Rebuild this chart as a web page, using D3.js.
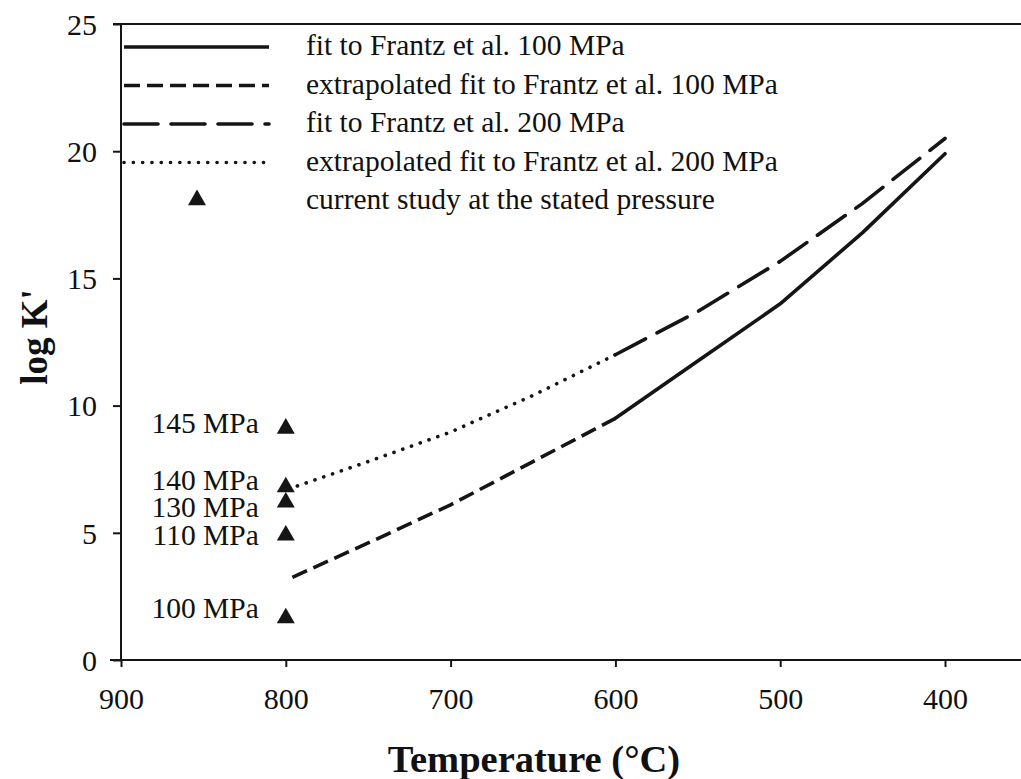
<!DOCTYPE html>
<html>
<head>
<meta charset="utf-8">
<script src="https://cdn.jsdelivr.net/npm/d3@7"></script>
<style>
  html, body { margin: 0; padding: 0; background: #fff; }
  svg { display: block; }
  text { font-family: "Liberation Serif", "Times New Roman", serif; fill: #111; }
</style>
</head>
<body>
<svg id="chart" width="1021" height="779"></svg>
<script>
// ---- data ----
const fit100Temp = [600, 550, 500, 450, 400];
const fit100LogK = [9.5, 11.75, 14.0, 16.8, 19.9];
const ext100Temp = [796, 750, 700, 650, 600];
const ext100LogK = [3.25, 4.6, 6.1, 7.8, 9.5];
const fit200Temp = [600, 550, 500, 450, 400];
const fit200LogK = [12.0, 13.7, 15.67, 17.95, 20.5];
const ext200Temp = [793, 750, 700, 650, 600];
const ext200LogK = [6.84, 7.8, 8.96, 10.4, 12.0];
const studyTemp = [800, 800, 800, 800, 800];
const studyLogK = [9.1, 6.8, 6.2, 4.9, 1.65];
const studyLabels = ["145 MPa", "140 MPa", "130 MPa", "110 MPa", "100 MPa"];
const labelShift = [5, 3, 15, 10, 0];   // pixel nudges used by the original figure
const xTicks = [900, 800, 700, 600, 500, 400];
const yTicks = [0, 5, 10, 15, 20, 25];
const legendLabels = [
  "fit to Frantz et al. 100 MPa",
  "extrapolated fit to Frantz et al. 100 MPa",
  "fit to Frantz et al. 200 MPa",
  "extrapolated fit to Frantz et al. 200 MPa",
  "current study at the stated pressure"
];

// ---- layout ----
const svg = d3.select("#chart");
const ink = "#151515";
const serif = "'Liberation Serif', 'Times New Roman', serif";
const x = d3.scaleLinear().domain([900, 350]).range([121, 1027.4]);
const y = d3.scaleLinear().domain([0, 25]).range([660, 24]);

const zip = (a, b) => a.map((t, i) => [t, b[i]]);
const line = d3.line().x(d => x(d[0])).y(d => y(d[1]));

const styles = [
  { data: zip(fit100Temp, fit100LogK), dash: null, cap: "round" },
  { data: zip(ext100Temp, ext100LogK), dash: "16,7", cap: "butt" },
  { data: zip(fit200Temp, fit200LogK), dash: "34,13", cap: "round" },
  { data: zip(ext200Temp, ext200LogK), dash: "0.1,9.2", cap: "round" }
];

// axes
const yAxis = d3.axisLeft(y).tickValues(yTicks).tickSize(8).tickPadding(16).tickFormat(d3.format("d"));
const xAxis = d3.axisBottom(x).tickValues(xTicks).tickSize(7).tickPadding(21).tickFormat(d3.format("d"));

const gy = svg.append("g").attr("transform", `translate(${x(900)},0)`).call(yAxis);
const gx = svg.append("g").attr("transform", `translate(0,${y(0)})`).call(xAxis);
[gx, gy].forEach(g => {
  g.attr("font-family", serif).attr("font-size", 30);
  g.select(".domain").attr("stroke", ink).attr("stroke-width", 2);
  g.selectAll(".tick line").attr("stroke", ink).attr("stroke-width", 2);
  g.selectAll(".tick text").attr("font-size", 30).attr("fill", "#111")
    .attr("font-family", serif);
});
gy.select(".domain").attr("d", `M-8,${y(25)}H0V${y(0)}H-8`);
gx.select(".domain").attr("d", `M${x(900) - 11},0H${x(350)}`);
gy.selectAll(".tick text").attr("dy", "0.34em");

// top frame line
svg.append("line")
  .attr("x1", x(900)).attr("x2", x(350))
  .attr("y1", y(25)).attr("y2", y(25))
  .attr("stroke", ink).attr("stroke-width", 2);

// axis titles
svg.append("text")
  .attr("x", 534).attr("y", 772)
  .attr("text-anchor", "middle")
  .attr("font-size", 38.5).attr("font-weight", "bold")
  .text("Temperature (°C)");
svg.append("text")
  .attr("transform", "translate(47,337) rotate(-90)")
  .attr("text-anchor", "middle")
  .attr("font-size", 37).attr("font-weight", "bold")
  .text("log K'");

// curves
svg.append("g").selectAll("path").data(styles).join("path")
  .attr("d", s => line(s.data))
  .attr("fill", "none")
  .attr("stroke", ink)
  .attr("stroke-width", 3.6)
  .attr("stroke-linecap", s => s.cap)
  .attr("stroke-linejoin", "round")
  .attr("stroke-dasharray", s => s.dash);

// study points
const tri = d3.symbol().type(d3.symbolTriangle).size(140);
svg.append("g").selectAll("path").data(studyTemp).join("path")
  .attr("transform", (t, i) => `translate(${x(t)},${y(studyLogK[i])})`)
  .attr("d", tri)
  .attr("fill", ink);

svg.append("g").selectAll("text").data(studyLabels).join("text")
  .attr("x", (d, i) => x(studyTemp[i]) - 27)
  .attr("y", (d, i) => y(studyLogK[i]) + labelShift[i])
  .attr("text-anchor", "end")
  .attr("font-size", 29.5)
  .text(d => d);

// legend
const legX1 = 124, legX2 = 269, legTextX = 306, legTop = 47, legStep = 38.5;
const leg = svg.append("g");
styles.forEach((s, i) => {
  leg.append("line")
    .attr("x1", legX1).attr("x2", legX2)
    .attr("y1", legTop + i * legStep).attr("y2", legTop + i * legStep)
    .attr("stroke", ink).attr("stroke-width", 3.6)
    .attr("stroke-linecap", s.cap === "round" && s.dash ? "round" : "butt")
    .attr("stroke-dasharray", s.dash);
});
leg.append("path")
  .attr("transform", `translate(197,${legTop + 4 * legStep - 1})`)
  .attr("d", tri).attr("fill", ink);
leg.selectAll("text").data(legendLabels).join("text")
  .attr("x", legTextX)
  .attr("y", (d, i) => legTop + i * legStep + 8)
  .attr("font-size", 29.5)
  .text(d => d);
</script>
</body>
</html>
